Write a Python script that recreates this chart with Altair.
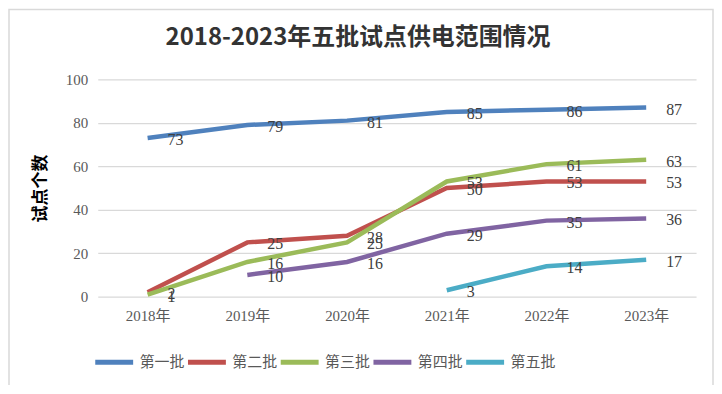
import altair as alt
import pandas as pd

years = ["2018年", "2019年", "2020年", "2021年", "2022年", "2023年"]
series_names = ["第一批", "第二批", "第三批", "第四批", "第五批"]
batch1 = [73, 79, 81, 85, 86, 87]
batch2 = [2, 25, 28, 50, 53, 53]
batch3 = [1, 16, 25, 53, 61, 63]
batch4 = [None, 10, 16, 29, 35, 36]
batch5 = [None, None, None, 3, 14, 17]
colors = ["#4F81BD", "#C0504D", "#9BBB59", "#8064A2", "#4BACC6"]

rows = []
for name, vals in zip(series_names, [batch1, batch2, batch3, batch4, batch5]):
    for y, v in zip(years, vals):
        if v is not None:
            rows.append({"年份": y, "批次": name, "数量": v})
df = pd.DataFrame(rows)

serif = "'Liberation Serif', 'Noto Sans CJK SC'"
cjk = "'Noto Sans CJK SC'"

x = alt.X("年份:N", sort=years, title=None,
          scale=alt.Scale(type="point", padding=0.5),
          axis=alt.Axis(labelAngle=0, ticks=False, domain=False, grid=False,
                        labelFont=serif, labelFontSize=15, labelColor="#595959",
                        labelPadding=12))
y = alt.Y("数量:Q", title="试点个数",
          scale=alt.Scale(domain=[0, 100]),
          axis=alt.Axis(values=[0, 20, 40, 60, 80, 100], ticks=False, domain=False,
                        gridColor="#d9d9d9", gridWidth=1.2,
                        labelFont=serif, labelFontSize=15, labelColor="#595959",
                        labelPadding=10, titleFont=cjk, titleFontSize=17,
                        titleFontWeight="bold", titleColor="#000000", titlePadding=16))
color = alt.Color("批次:N", sort=series_names,
                  scale=alt.Scale(domain=series_names, range=colors),
                  legend=alt.Legend(title=None, orient="none", direction="horizontal",
                                    legendX=-5, legendY=262, symbolType="stroke",
                                    symbolSize=1444, symbolStrokeWidth=5,
                                    labelFont=cjk, labelFontSize=15, labelColor="#595959",
                                    labelOffset=4, columnPadding=-10))

border = alt.Chart(pd.DataFrame({"b": [0]})).mark_rect(
    fill=None, stroke="#d9d9d9", strokeWidth=1.5
).encode(x=alt.value(-89), x2=alt.value(617), y=alt.value(-70), y2=alt.value(311))

lines = alt.Chart(df).mark_line(strokeWidth=4.5).encode(x=x, y=y, color=color)
labels = alt.Chart(df).mark_text(
    align="left", baseline="middle", dx=20, dy=2,
    font=serif, fontSize=16, color="#404040"
).encode(x=x, y=y, text="数量:Q", detail="批次:N")

chart = alt.layer(border, lines, labels).properties(
    width=600, height=218,
    title=alt.TitleParams("2018-2023年五批试点供电范围情况", font=cjk, fontSize=24,
                          fontWeight="bold", color="#333333", anchor="middle",
                          frame="group", dx=-39, dy=41, offset=0),
    autosize=alt.AutoSizeParams(type="none"),
    padding={"left": 90, "top": 71, "right": 18, "bottom": 88},
).configure_view(stroke=None)

chart.save("out.html", embed_options={"renderer": "svg", "actions": False})
